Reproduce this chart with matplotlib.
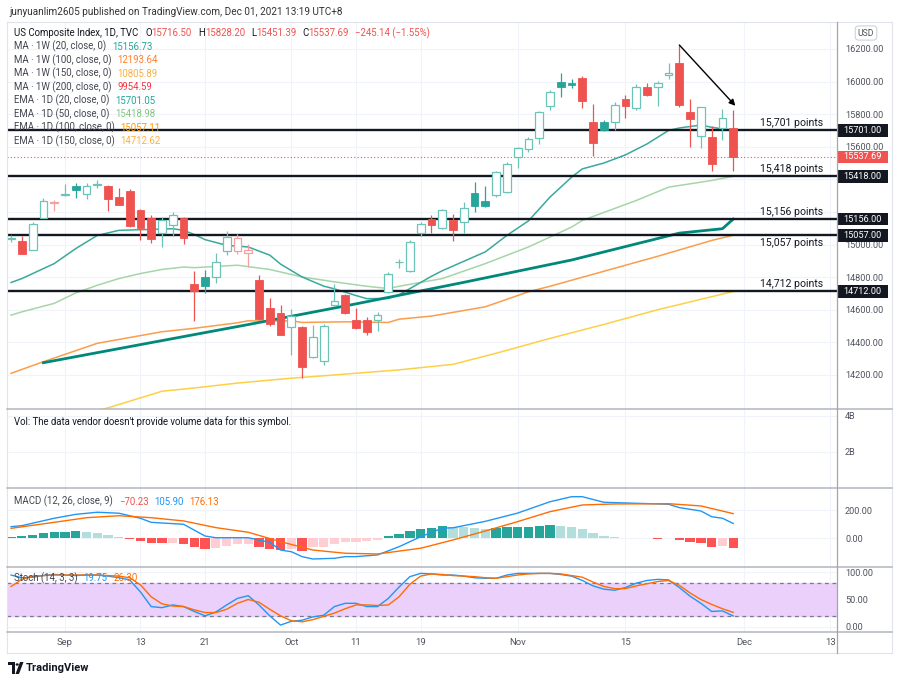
import matplotlib
matplotlib.use("Agg")
import matplotlib.pyplot as plt
import matplotlib.transforms as mtransforms
from matplotlib.patches import Rectangle, Polygon, Circle
from matplotlib.lines import Line2D

plt.rcParams['font.family'] = ['Roboto', 'DejaVu Sans']

W, H = 900, 682

# bar number 0 = 1 Sep 2021 (trading days only)
bars = list(range(-5, 63))
opens = [15035, 15021, 14969, 15162, 15257, 15303, 15356, 15311, 15368, 15360,
         15290, 15327, 15209, 15164, 15070, 15117, 15162, 14755, 14798, 14798,
         14958, 14960, 14950, 14785, 14612, 14581, 14492, 14492, 14312, 14287,
         14632, 14689, 14536, 14536, 14536, 14710, 14890, 14838, 15070, 15154,
         15103, 15152, 15138, 15315, 15268, 15301, 15321, 15539, 15587, 15654,
         15851, 16000, 15994, 16021, 15749, 15754, 15754, 15892, 15835, 15969,
         15969, 16041, 16116, 15810, 15668, 15658, 15715, 15716.50]
highs = [15056, 15052, 15138, 15287, 15275, 15372, 15376, 15376, 15397, 15365,
         15348, 15342, 15215, 15179, 15168, 15201, 15170, 14838, 14842, 14948,
         15083, 15067, 15001, 14816, 14675, 14628, 14602, 14500, 14506, 14510,
         14755, 14695, 14608, 14553, 14587, 14832, 14914, 15026, 15138, 15179,
         15220, 15189, 15260, 15382, 15362, 15454, 15505, 15596, 15657, 15821,
         15947, 16051, 16015, 16035, 15865, 15764, 15872, 15919, 15984, 15994,
         16004, 16116, 16224, 15892, 15841, 15729, 15831, 15828.20]
lows = [15013, 14940, 14965, 15160, 15203, 15300, 15284, 15281, 15348, 15205,
        15240, 15108, 15030, 15009, 14985, 15050, 15001, 14532, 14700, 14767,
        14934, 14944, 14862, 14537, 14500, 14445, 14322, 14180, 14302, 14261,
        14622, 14571, 14480, 14445, 14471, 14703, 14853, 14832, 15050, 15070,
        15097, 15021, 15070, 15199, 15230, 15291, 15315, 15470, 15566, 15617,
        15827, 15902, 15963, 15835, 15546, 15698, 15703, 15776, 15825, 15913,
        15851, 16015, 15843, 15601, 15593, 15454, 15642, 15451.39]
closes = [15040, 14944, 15128, 15264, 15259, 15306, 15332, 15362, 15372, 15281,
          15244, 15111, 15103, 15036, 15152, 15179, 15042, 14714, 14746, 14893,
          15046, 15043, 14969, 14541, 14510, 14448, 14563, 14251, 14431, 14500,
          14653, 14581, 14486, 14465, 14565, 14822, 14895, 15015, 15128, 15117,
          15209, 15087, 15223, 15234, 15236, 15443, 15495, 15590, 15648, 15810,
          15937, 15968, 15978, 15882, 15621, 15703, 15857, 15851, 15969, 15917,
          15990, 16055, 15854, 15770, 15841, 15491, 15776, 15537.69]

# moving averages (bar number, value)
ma1w20_x = [-2, 7, 17, 27, 37, 47, 57, 61, 62]
ma1w20_y = [14275, 14386, 14509, 14636, 14768, 14905, 15070, 15097, 15156]
ema20_x = [-5, -4, -1, 1, 3, 5, 7, 10, 11, 12, 13, 15, 17, 19, 20, 22, 24, 25, 27,
           28, 30, 31, 34, 35, 39, 41, 43, 45, 47, 48, 50, 52, 54, 56, 57, 59, 60, 62]
ema20_y = [14767, 14791, 14883, 14975, 15056, 15087, 15091, 15097, 15087, 15062,
           15030, 14995, 14985, 14935, 14880, 14801, 14745, 14728, 14687, 14668,
           14669, 14692, 14805, 14839, 14955, 15056, 15145, 15291, 15413, 15464,
           15500, 15550, 15617, 15700, 15715, 15733, 15719, 15701]
ema50_x = [-5, -4, -1, 1, 3, 5, 7, 9, 11, 12, 16, 19, 22, 25, 28, 30, 31, 35, 39,
           43, 45, 47, 48, 53, 56, 60, 62]
ema50_y = [14567, 14587, 14639, 14703, 14750, 14791, 14822, 14847, 14862, 14858,
           14873, 14847, 14801, 14771, 14744, 14730, 14744, 14791, 14883, 14985,
           15046, 15107, 15148, 15270, 15352, 15393, 15418]
ema100_x = [-5, -2, 3, 9, 12, 16, 17, 19, 21, 22, 26, 30, 31, 34, 39, 43, 45, 50,
            55, 60, 62]
ema100_y = [14210, 14281, 14394, 14465, 14486, 14520, 14532, 14530, 14532, 14522,
            14526, 14522, 14542, 14561, 14618, 14710, 14744, 14836, 14928, 15025, 15057]
ema150_x = [-5, 4, 9, 12, 16, 21, 25, 31, 36, 40, 45, 50, 55, 62]
ema150_y = [13850, 13998, 14100, 14120, 14150, 14180, 14200, 14231, 14265, 14333,
            14424, 14510, 14600, 14712]

levels = [15701, 15418, 15156, 15057, 14712]
level_texts = ['15,701 points', '15,418 points', '15,156 points', '15,057 points', '14,712 points']
last_price = 15537.69

# MACD (12, 26, close, 9)
macd_hist = [12, 13, 24, 40, 45, 48, 50, 43, 40, 24, 12, -6, -21, -33, -34, -31, -40,
             -64, -76, -71, -52, -42, -40, -64, -76, -82, -76, -88, -64, -62, -40, -29,
             -24, -19, -10, 14, 31, 50, 67, 76, 86, 80, 78, 75, 68, 71, 79, 80, 81, 88,
             95, 88, 83, 66, 36, 17, 7, 3, 4, 1, -2, 2, -12, -29, -36, -60, -55, -70.23]
macd_x = [-5, -4, -1, 1, 3, 5, 7, 8, 11, 13, 14, 17, 19, 20, 21, 22, 23, 25, 26, 27,
          29, 31, 33, 35, 36, 39, 42, 45, 47, 48, 50, 53, 56, 57, 59, 60, 61, 62]
macd_y = [83, 90, 143, 171, 186, 179, 143, 114, 100, 16, 4, 4, -29, -84, -96, -131,
          -148, -143, -131, -131, -119, -60, 11, 72, 75, 121, 180, 261, 297, 297, 257,
          250, 243, 219, 195, 154, 143, 105.90]
signal_x = [-5, -1, 2, 5, 8, 11, 14, 17, 20, 23, 26, 29, 33, 36, 39, 42, 45, 48, 51,
            56, 59, 62]
signal_y = [71, 114, 147, 161, 147, 124, 76, 43, -24, -84, -107, -112, -71, -12, 52,
            119, 190, 238, 245, 247, 231, 176.13]

# Stoch (14, 3, 3)
stoch_k = [95, 90, 91, 94, 96, 95, 94, 95, 95, 93, 90, 86, 64, 37, 35, 40, 37, 28, 20,
           27, 40, 52, 57, 40, 20, 3, 10, 12, 18, 21, 37, 43, 43, 37, 37, 52, 73, 92,
           98, 97, 95, 95, 93, 90, 89, 89, 95, 98, 98, 98, 98, 96, 93, 85, 75, 69, 67,
           72, 80, 85, 87, 86, 72, 56, 43, 28, 29, 19.75]
stoch_d = [74, 87, 93, 94, 95, 95, 95, 95, 95, 94, 93, 90, 77, 55, 42, 38, 37, 31, 26,
           26, 32, 43, 50, 45, 32, 20, 11, 9, 13, 19, 25, 33, 40, 40, 39, 40, 55, 78,
           93, 97, 96, 94, 93, 92, 90, 89, 92, 95, 97, 98, 98, 97, 94, 91, 82, 74, 70,
           70, 75, 79, 83, 85, 76, 62, 50, 41, 33, 26.30]

date_ticks = [0, 7, 13, 21, 27, 33, 42, 52, 63, 71]
date_labels = ['Sep', '13', '21', 'Oct', '11', '19', 'Nov', '15', 'Dec', '13']

GREEN = '#26a69a'
GREEN_H = '#6cc3b8'
RED = '#ef5350'
RED_H = '#f5a09e'
TXT = '#131722'
AXTXT = '#50535e'
GRID = '#f0f3fa'

fig = plt.figure(figsize=(W / 100, H / 100), dpi=100)
fig.patch.set_facecolor('white')
X0, X1 = 7.3, 836.7


def panel(top, bottom):
    a = fig.add_axes([X0 / W, 1 - bottom / H, (X1 - X0) / W, (bottom - top) / H])
    for s in a.spines.values():
        s.set_visible(False)
    a.set_xlim(-5.35, 71.6)
    a.set_xticks(date_ticks)
    a.grid(True, color=GRID, lw=0.8)
    a.set_axisbelow(True)
    a.yaxis.tick_right()
    a.tick_params(axis='y', length=0, pad=6, labelsize=6.6, labelcolor=AXTXT)
    a.tick_params(axis='x', length=0, labelbottom=False)
    return a


ax = panel(21.7, 409)
axv = panel(409, 488.3)
axm = panel(488.3, 566.7)
axs = panel(566.7, 632.3)

# ---- price panel
ax.set_ylim(13991, 16367)
pticks = list(range(14200, 16201, 200))
ax.set_yticks(pticks)
# 15400 and 15200 sit under the level boxes, as on the reference
ax.set_yticklabels(['' if v in (15400, 15200) else f'{v:.2f}' for v in pticks])

ax.plot(ema150_x, ema150_y, color='#fdd047', lw=1.1, zorder=2)
ax.plot(ema100_x, ema100_y, color='#fb9d4b', lw=1.1, zorder=2)
ax.plot(ema50_x, ema50_y, color='#a5d6a7', lw=1.1, zorder=2)
ax.plot(ema20_x, ema20_y, color='#3aa99c', lw=1.1, zorder=2)
ax.plot(ma1w20_x, ma1w20_y, color='#00897b', lw=2.0, zorder=2)

for lv in levels:
    ax.axhline(lv, color=TXT, lw=1.7, zorder=3)
ax.axhline(last_price, color=RED, lw=0.8, ls=(0, (1, 2)), zorder=2)

prev_close = [closes[0]] + closes[:-1]
for i, o, hi, lo, c, pc in zip(bars, opens, highs, lows, closes, prev_close):
    up = c >= pc
    if c >= o:
        col = GREEN_H if up else RED_H
        ax.vlines(i, lo, hi, color=col, lw=0.9, zorder=4)
        ax.add_patch(Rectangle((i - 0.36, o), 0.72, max(c - o, 4), fc='white', ec=col,
                               lw=0.9, zorder=5))
    else:
        col = GREEN if up else RED
        ax.vlines(i, lo, hi, color=col, lw=0.9, zorder=4)
        ax.add_patch(Rectangle((i - 0.36, c), 0.72, o - c, fc=col, ec=col, lw=0.6, zorder=5))

ax.annotate('', xy=(62.2, 15851), xytext=(57.0, 16224),
            arrowprops=dict(arrowstyle='-|>', color='black', lw=1.0, mutation_scale=9,
                            shrinkA=0, shrinkB=0), zorder=6)

pt_px = 0.163  # pixels per index point
for lv, lt in zip(levels, level_texts):
    dy = -47 if lv == 15057 else 46
    ax.text(70.35, lv + dy, lt, ha='right', va='center', fontsize=7.6, color=TXT, zorder=6)

bt = mtransforms.blended_transform_factory(ax.transAxes, ax.transData)
bw = 51 / (X1 - X0)
bh = 12.7 / pt_px
for lv in levels:
    ax.add_patch(Rectangle((1.0, lv - bh / 2), bw, bh, transform=bt, fc=TXT, ec='none',
                           clip_on=False, zorder=7))
    ax.text(1.0 + bw / 2, lv, f'{lv:.2f}', transform=bt, ha='center', va='center',
            fontsize=6.6, color='white', clip_on=False, zorder=8)
ax.add_patch(Rectangle((1.0, last_price - bh / 2), bw, bh, transform=bt, fc='#f05450',
                       ec='none', clip_on=False, zorder=7))
ax.text(1.0 + bw / 2, last_price, f'{last_price:.2f}', transform=bt, ha='center',
        va='center', fontsize=6.6, color='white', clip_on=False, zorder=8)

# ---- volume panel
axv.set_ylim(-0.03e9, 4.37e9)
axv.set_yticks([2e9, 4e9])
axv.set_yticklabels(['2B', '4B'])

# ---- MACD panel
axm.set_ylim(-203, 357)
axm.set_yticks([0, 200])
axm.set_yticklabels(['0.00', '200.00'])
prev_h = [macd_hist[0]] + macd_hist[:-1]
hcols = []
for h, ph in zip(macd_hist, prev_h):
    if h >= 0:
        hcols.append('#26a69a' if h >= ph else '#b2dfdb')
    else:
        hcols.append('#ffcdd2' if h > ph else '#ff5252')
axm.bar(bars, macd_hist, width=0.86, color=hcols, zorder=2)
axm.plot(macd_x, macd_y, color='#2196f3', lw=1.0, zorder=3)
axm.plot(signal_x, signal_y, color='#ff6d00', lw=1.0, zorder=3)

# ---- Stoch panel
axs.set_ylim(-10.3, 110.3)
axs.set_yticks([0, 50, 100])
axs.set_yticklabels(['0.00', '50.00', '100.00'])
axs.axhspan(20, 80, color='#ead0fb', zorder=1)
axs.axhline(80, color='#787b86', lw=0.9, ls=(0, (3, 3)), zorder=2)
axs.axhline(20, color='#787b86', lw=0.9, ls=(0, (3, 3)), zorder=2)
axs.plot(bars, stoch_k, color='#2196f3', lw=1.0, zorder=3)
axs.plot(bars, stoch_d, color='#ff6d00', lw=1.0, zorder=3)
axs.tick_params(axis='x', labelbottom=True, pad=4, labelsize=6.8, labelcolor=AXTXT)
axs.set_xticklabels(date_labels)

# ---- frame and separators
def hline(y, x0, x1, color, lw):
    fig.add_artist(Line2D([x0 / W, x1 / W], [1 - y / H, 1 - y / H], color=color, lw=lw))


def vline(x, y0, y1, color, lw):
    fig.add_artist(Line2D([x / W, x / W], [1 - y0 / H, 1 - y1 / H], color=color, lw=lw))


hline(21.7, X0, 891.7, '#e0e3eb', 0.8)
hline(653.3, X0, 891.7, '#e0e3eb', 0.8)
vline(X0, 21.7, 653.3, '#e0e3eb', 0.8)
vline(891.7, 21.7, 653.3, '#e0e3eb', 0.8)
for yy in [409, 488.3, 566.7, 632.3]:
    hline(yy, X0, 891.7, '#b2b5be', 1.1)
vline(X1, 21.7, 653.3, '#a3a6af', 0.9)

fig.text(866 / W, 1 - 33 / H, 'USD', fontsize=6.2, color=AXTXT, ha='center', va='center',
         bbox=dict(boxstyle='round,pad=0.3,rounding_size=0.4', fc='white', ec='#c9ccd3', lw=0.7))

# ---- texts
renderer = fig.canvas.get_renderer()


def text_row(y_px, parts, x_px=14, size=6.9):
    x = x_px
    for s, c, gap in parts:
        x += gap
        t = fig.text(x / W, 1 - y_px / H, s, color=c, fontsize=size, ha='left', va='center')
        x += t.get_window_extent(renderer).width


fig.text(9 / W, 1 - 12 / H, 'junyuanlim2605 published on TradingView.com, Dec 01, 2021 13:19 UTC+8',
         fontsize=7.2, color='#333333', ha='left', va='center')

text_row(33.3, [('US Composite Index, 1D, TVC', TXT, 0), ('O', TXT, 7), ('15716.50', RED, 0),
                ('H', TXT, 6), ('15828.20', RED, 0), ('L', TXT, 6), ('15451.39', RED, 0),
                ('C', TXT, 6), ('15537.69', RED, 0), ('\u2212245.14 (\u22121.55%)', RED, 6)])
legend_rows = [('MA \u00b7 1W (20, close, 0)', '15156.73', '#26a69a'),
               ('MA \u00b7 1W (100, close, 0)', '12193.64', '#ff7f27'),
               ('MA \u00b7 1W (150, close, 0)', '10805.89', '#fbb03b'),
               ('MA \u00b7 1W (200, close, 0)', '9954.59', '#f23645'),
               ('EMA \u00b7 1D (20, close, 0)', '15701.05', '#26a69a'),
               ('EMA \u00b7 1D (50, close, 0)', '15418.98', '#81c784'),
               ('EMA \u00b7 1D (100, close, 0)', '15057.11', '#ff9800'),
               ('EMA \u00b7 1D (150, close, 0)', '14712.62', '#fcb040')]
for k, (name, val, col) in enumerate(legend_rows):
    text_row(46.7 + 13.47 * k, [(name, '#434651', 0), (val, col, 6)])

text_row(421.7, [("Vol: The data vendor doesn't provide volume data for this symbol.", TXT, 0)])
text_row(501.7, [('MACD (12, 26, close, 9)', '#434651', 0), ('\u221270.23', RED, 6),
                 ('105.90', '#2196f3', 6), ('176.13', '#ff6d00', 6)])
text_row(578.3, [('Stoch (14, 3, 3)', '#434651', 0), ('19.75', '#2196f3', 6),
                 ('26.30', '#ff6d00', 6)])

# TradingView mark
fig.add_artist(Polygon([[8 / W, 1 - 662 / H], [15 / W, 1 - 662 / H], [15 / W, 1 - 674 / H],
                        [12 / W, 1 - 674 / H], [12 / W, 1 - 665 / H], [8 / W, 1 - 665 / H]],
                       closed=True, fc=TXT, ec='none'))
fig.add_artist(Circle((17.2 / W, 1 - 664.5 / H), 1.6 / W, fc=TXT, ec='none'))
fig.add_artist(Polygon([[20 / W, 1 - 662 / H], [23.5 / W, 1 - 662 / H], [19 / W, 1 - 674 / H],
                        [15.5 / W, 1 - 674 / H]], closed=True, fc=TXT, ec='none'))
fig.text(26 / W, 1 - 668 / H, 'TradingView', fontsize=8, fontweight='bold', color=TXT,
         ha='left', va='center')

fig.savefig('out.png', dpi=100, facecolor='white')
